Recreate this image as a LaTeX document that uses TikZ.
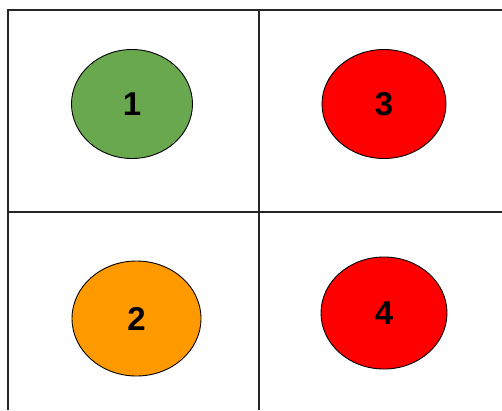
\documentclass[tikz,border=0pt]{standalone}
\usepackage{fontspec}
\setmainfont{Liberation Sans}
\usetikzlibrary{shapes.geometric}
\definecolor{quadgreen}{HTML}{6AA84F}
\definecolor{quadorange}{HTML}{FF9900}
\definecolor{quadred}{HTML}{FF0000}
\tikzset{
  dot/.style={ellipse,draw=black,line width=0.9pt,inner sep=0pt,font=\fontsize{33}{33}\selectfont\bfseries},
  gridline/.style={line width=1.4pt,draw=black!85},
}
\begin{document}
\begin{tikzpicture}[x=1pt,y=-1pt]
  \useasboundingbox (0,0) rectangle (502,410);
  % frame and dividers
  \draw[gridline] (502,10) -- (8,10) -- (8,410);
  \draw[gridline] (259,10) -- (259,410);
  \draw[gridline] (8,212) -- (502,212);
  % quadrants
  \node[dot,fill=quadgreen,minimum width=121,minimum height=109] (q1) at (132,104) {1};
  \node[dot,fill=quadred,minimum width=124,minimum height=109] (q3) at (384,104) {3};
  \node[dot,fill=quadorange,minimum width=129,minimum height=115] (q2) at (136.5,318.5) {2};
  \node[dot,fill=quadred,minimum width=126,minimum height=112] (q4) at (384,313) {4};
\end{tikzpicture}
\end{document}
